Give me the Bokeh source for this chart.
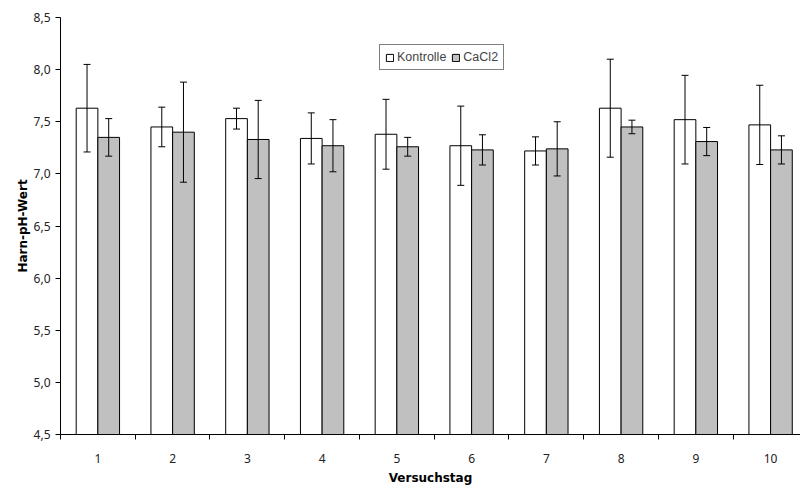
from bokeh.plotting import figure
from bokeh.models import (ColumnDataSource, Whisker, TeeHead, FixedTicker, Range1d,
                          CustomJSTickFormatter)
from bokeh.transform import dodge
from bokeh.embed import file_html
from bokeh.resources import INLINE

days = [1, 2, 3, 4, 5, 6, 7, 8, 9, 10]
kontrolle_mean = [7.63, 7.45, 7.53, 7.34, 7.38, 7.27, 7.22, 7.63, 7.52, 7.47]
kontrolle_sd = [0.42, 0.19, 0.10, 0.245, 0.335, 0.38, 0.135, 0.47, 0.425, 0.38]
cacl2_mean = [7.35, 7.40, 7.33, 7.27, 7.26, 7.23, 7.24, 7.45, 7.31, 7.23]
cacl2_sd = [0.18, 0.48, 0.375, 0.25, 0.09, 0.145, 0.26, 0.065, 0.135, 0.135]
y_ticks = [4.5, 5.0, 5.5, 6.0, 6.5, 7.0, 7.5, 8.0, 8.5]

src = ColumnDataSource(dict(
    day=days,
    k=kontrolle_mean,
    k_up=[m + s for m, s in zip(kontrolle_mean, kontrolle_sd)],
    k_lo=[m - s for m, s in zip(kontrolle_mean, kontrolle_sd)],
    c=cacl2_mean,
    c_up=[m + s for m, s in zip(cacl2_mean, cacl2_sd)],
    c_lo=[m - s for m, s in zip(cacl2_mean, cacl2_sd)],
))

p = figure(width=800, height=488, output_backend="svg", toolbar_location=None,
           x_range=Range1d(0.5, 10.40), y_range=Range1d(4.5, 8.5),
           min_border_left=60, min_border_right=0, min_border_top=17,
           min_border_bottom=54)
p.outline_line_color = None
p.xgrid.visible = False
p.ygrid.visible = False

bw = 0.29
p.vbar(x=dodge("day", -bw / 2, range=p.x_range), top="k", bottom=4.5, width=bw,
       source=src, fill_color="white", line_color="black", line_width=1,
       legend_label="Kontrolle")
p.vbar(x=dodge("day", bw / 2, range=p.x_range), top="c", bottom=4.5, width=bw,
       source=src, fill_color="#C0C0C0", line_color="black", line_width=1,
       legend_label="CaCl2")

for off, up, lo in [(-bw / 2, "k_up", "k_lo"), (bw / 2, "c_up", "c_lo")]:
    p.add_layout(Whisker(source=src, base=dodge("day", off, range=p.x_range),
                         upper=up, lower=lo, line_color="black", line_width=1,
                         level="annotation",
                         upper_head=TeeHead(size=7, line_color="black", line_width=1),
                         lower_head=TeeHead(size=7, line_color="black", line_width=1)))

# axes
p.xaxis.ticker = FixedTicker(ticks=days, minor_ticks=[d - 0.5 for d in days] + [10.5])
p.xaxis.major_tick_out = 0
p.xaxis.major_tick_in = 0
p.xaxis.minor_tick_out = 5
p.xaxis.minor_tick_in = 0
p.xaxis.minor_tick_line_color = "black"
p.xaxis.axis_line_color = "black"
p.xaxis.major_label_standoff = 14
p.xaxis.major_label_text_font = "Noto Sans"
p.xaxis.major_label_text_font_size = "12px"
p.xaxis.major_label_text_color = "#222222"
p.xaxis.axis_label = "Versuchstag"
p.xaxis.axis_label_text_font = "DejaVu Sans"
p.xaxis.axis_label_text_font_style = "bold"
p.xaxis.axis_label_text_font_size = "12px"
p.xaxis.axis_label_standoff = 5
p.xaxis.axis_label_text_color = "black"

p.yaxis.ticker = FixedTicker(ticks=y_ticks, minor_ticks=[])
p.yaxis.formatter = CustomJSTickFormatter(code="return tick.toFixed(1).replace('.', ',');")
p.yaxis.major_tick_out = 5
p.yaxis.major_tick_in = 0
p.yaxis.major_tick_line_color = "black"
p.yaxis.axis_line_color = "black"
p.yaxis.major_label_standoff = 5
p.yaxis.major_label_text_font = "Noto Sans"
p.yaxis.major_label_text_font_size = "12px"
p.yaxis.major_label_text_color = "#222222"
p.yaxis.axis_label = "Harn-pH-Wert"
p.yaxis.axis_label_text_font = "DejaVu Sans"
p.yaxis.axis_label_text_font_style = "bold"
p.yaxis.axis_label_text_font_size = "12px"
p.yaxis.axis_label_standoff = 1
p.yaxis.axis_label_text_color = "black"

leg = p.legend[0]
leg.orientation = "horizontal"
leg.location = (319, 364)
leg.border_line_color = "black"
leg.border_line_width = 1
leg.background_fill_alpha = 1
leg.label_text_font = "Liberation Sans"
leg.label_text_font_size = "12.5px"
leg.label_height = 12
leg.glyph_width = 9
leg.glyph_height = 9
leg.padding = 5
leg.spacing = 5
leg.label_standoff = 3
leg.margin = 0

open("out.html", "w").write(file_html(p, INLINE))
